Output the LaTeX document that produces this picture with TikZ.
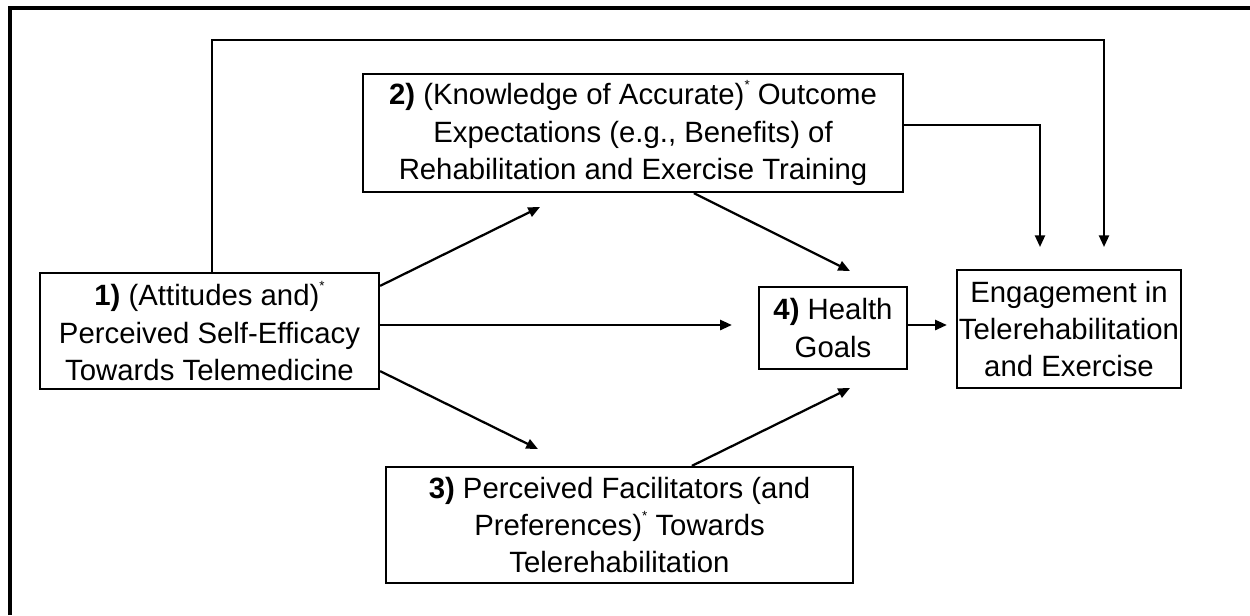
\documentclass[tikz,border=0pt]{standalone}
\usepackage{fontspec}
\setmainfont{Liberation Sans}
\usetikzlibrary{arrows.meta,calc}
\newcommand{\starmark}{\raisebox{0.52em}{\fontsize{8}{8}\selectfont*}}
\begin{document}
\begin{tikzpicture}[x=0.6pt,y=-0.6pt,
  box/.style={draw,line width=1.35pt,inner sep=0pt,align=center,
    font=\fontsize{17.6}{22.4}\selectfont},
  link/.style={line width=1.35pt,-{Triangle[length=7pt,width=6pt]}}]
\useasboundingbox (0,0) rectangle (1250,615);
% outer frame (only top and left edges fall inside the page)
\draw[line width=1.9pt] (10,615) -- (10,8) -- (1250,8);

\node[box,minimum width=339*0.6pt,minimum height=116*0.6pt] (b1) at (209.5,331)
  {\textbf{1)} (Attitudes and)\starmark\\Perceived Self-Efficacy\\Towards Telemedicine};
\node[box,minimum width=540*0.6pt,minimum height=118*0.6pt] (b2) at (633,133)
  {\textbf{2)} (Knowledge of Accurate)\starmark\ Outcome\\Expectations (e.g., Benefits) of\\Rehabilitation and Exercise Training};
\node[box,minimum width=467*0.6pt,minimum height=116*0.6pt] (b3) at (619.5,525)
  {\textbf{3)} Perceived Facilitators (and\\Preferences)\starmark\ Towards\\Telerehabilitation};
\node[box,minimum width=148*0.6pt,minimum height=82*0.6pt] (b4) at (833,328)
  {\textbf{4)} Health\\Goals};
\node[box,minimum width=224*0.6pt,minimum height=118*0.6pt] (b5) at (1069,329)
  {Engagement in\\Telerehabilitation\\and Exercise};

% free arrow ends
\coordinate (t2) at (540,207);
\coordinate (t3) at (538,449);
\coordinate (t4a) at (850,271);
\coordinate (t4b) at (850,388);
\coordinate (t5a) at (1040,247);
\coordinate (t5b) at (1104,247);

\draw[link] ($(b1.north east)+(0,14)$) -- (t2);
\draw[link] ($(b1.south east)+(0,-19)$) -- (t3);
\draw[link] ($(b1.east)+(0,-6)$) -- ($(b4.west)+(-26,-3)$);
\draw[link] ($(b2.south west)+(332,0)$) -- (t4a);
\draw[link] ($(b3.north west)+(307,0)$) -- (t4b);
\draw[link] ($(b4.east)+(0,-3)$) -- ($(b5.west)+(-9,-4)$);
\draw[link] ($(b2.north east)+(0,52)$) -| (t5a);
\draw[link] ($(b1.north west)+(173,0)$) |- (1104,40) -- (t5b);
\end{tikzpicture}
\end{document}
